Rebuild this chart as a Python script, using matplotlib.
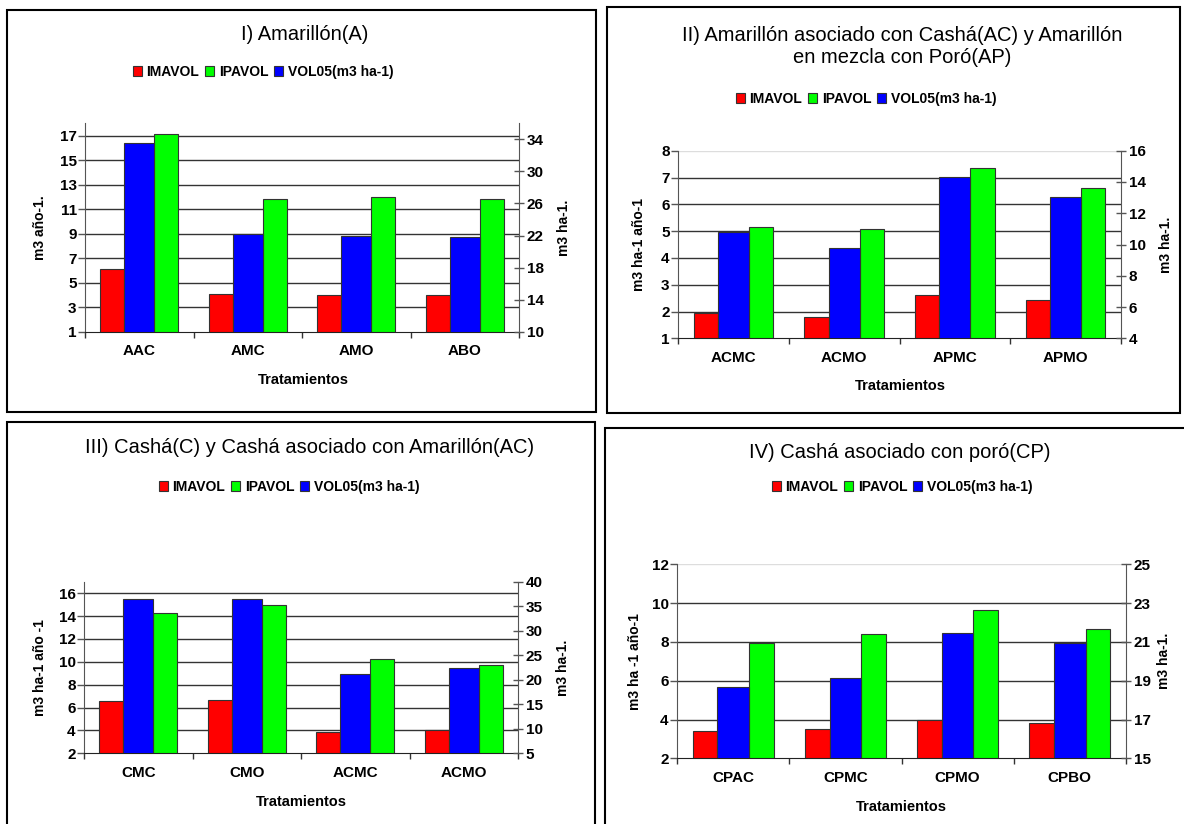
import numpy as np
import matplotlib
matplotlib.use('Agg')
import matplotlib.pyplot as plt
from matplotlib.patches import Rectangle, Patch

plt.rcParams['font.family'] = ['Liberation Sans', 'DejaVu Sans']

W, H = 1184, 824

# Data
series = ['IMAVOL', 'IPAVOL', 'VOL05(m3 ha-1)']

cats_1 = ['AAC', 'AMC', 'AMO', 'ABO']
imavol_1 = [6.1, 4.05, 3.97, 3.97]
ipavol_1 = [17.1, 11.8, 11.95, 11.85]
vol05_1 = [33.5, 22.2, 21.9, 21.8]

cats_2 = ['ACMC', 'ACMO', 'APMC', 'APMO']
imavol_2 = [1.95, 1.8, 2.6, 2.42]
ipavol_2 = [5.17, 5.09, 7.35, 6.6]
vol05_2 = [10.8, 9.75, 14.3, 13.05]

cats_3 = ['CMC', 'CMO', 'ACMC', 'ACMO']
imavol_3 = [6.58, 6.67, 3.84, 4.04]
ipavol_3 = [14.3, 14.95, 10.2, 9.7]
vol05_3 = [36.4, 36.5, 21.1, 22.5]

cats_4 = ['CPAC', 'CPMC', 'CPMO', 'CPBO']
imavol_4 = [3.39, 3.49, 3.98, 3.8]
ipavol_4 = [7.93, 8.39, 9.66, 8.67]
vol05_4 = [18.66, 19.12, 21.44, 20.94]

titles = ['I) Amarillón(A)',
          'II) Amarillón asociado con Cashá(AC) y Amarillón\nen mezcla con Poró(AP)',
          'III) Cashá(C) y Cashá asociado con Amarillón(AC)',
          'IV) Cashá asociado con poró(CP)']
left_labels = ['m3 año-1.', 'm3 ha-1 año-1', 'm3 ha-1 año -1', 'm3 ha -1 año-1']
right_label = 'm3 ha-1.'

RED, GREEN, BLUE = '#ff0000', '#00ff00', '#0000ff'
EDGE = '#333333'

fig = plt.figure(figsize=(W / 100, H / 100), dpi=100)


def fx(x):
    return x / W


def fy(y):
    return 1 - y / H


# layout in pixels: frame, axes box, title, legend, xlabel, ylabel x positions
panels = [
    dict(frame=(7, 10, 596, 412), axbox=(85, 123.3, 519, 331.7), title=(305, 35),
         legend=(263, 72), xlab=(303, 380), ylx=(40, 564),
         cats=cats_1, red=imavol_1, green=ipavol_1, blue=vol05_1,
         llim=(1, 18), lticks=range(1, 18, 2), rlim=(10, 36), rticks=range(10, 35, 4)),
    dict(frame=(606.5, 7, 1180, 412.5), axbox=(678, 150.7, 1121, 338.3), title=(902, 46.5),
         legend=(866, 99), xlab=(900, 386), ylx=(639, 1166),
         cats=cats_2, red=imavol_2, green=ipavol_2, blue=vol05_2,
         llim=(1, 8), lticks=range(1, 9), rlim=(4, 16), rticks=range(4, 17, 2)),
    dict(frame=(7, 421.5, 595, 830), axbox=(84, 581.7, 518, 753.3), title=(310, 447),
         legend=(289, 487), xlab=(301, 802), ylx=(40, 563),
         cats=cats_3, red=imavol_3, green=ipavol_3, blue=vol05_3,
         llim=(2, 17), lticks=range(2, 17, 2), rlim=(5, 40), rticks=range(5, 41, 5)),
    dict(frame=(605.5, 427.5, 1190, 830), axbox=(677, 564.3, 1126, 758.3), title=(900, 453),
         legend=(902, 487), xlab=(901, 807), ylx=(635, 1164),
         cats=cats_4, red=imavol_4, green=ipavol_4, blue=vol05_4,
         llim=(2, 12), lticks=range(2, 13, 2), rlim=(15, 25), rticks=range(15, 26, 2)),
]

for i, p in enumerate(panels):
    x0, y0, x1, y1 = p['frame']
    fig.patches.append(Rectangle((fx(x0), fy(y1)), (x1 - x0) / W, (y1 - y0) / H,
                                 transform=fig.transFigure, fill=False,
                                 ec='black', lw=1.5))

    l, t, r, b = p['axbox']
    ax = fig.add_axes([fx(l), fy(b), (r - l) / W, (b - t) / H])
    ax2 = ax.twinx()

    x = np.arange(len(p['cats']))
    ax.bar(x - 0.25, p['red'], width=0.22, color=RED, edgecolor=EDGE, lw=0.8, zorder=2)
    ax.bar(x + 0.25, p['green'], width=0.22, color=GREEN, edgecolor=EDGE, lw=0.8, zorder=2)
    ax2.bar(x, p['blue'], width=0.28, color=BLUE, edgecolor=EDGE, lw=0.8, zorder=2)

    ax.set_xlim(-0.5, len(x) - 0.5)
    ax.set_ylim(*p['llim'])
    ax2.set_ylim(*p['rlim'])
    ax.set_yticks(list(p['lticks']))
    ax2.set_yticks(list(p['rticks']))

    for v in p['lticks']:
        if v == p['llim'][0]:
            continue
        c = '#dddddd' if v == p['llim'][1] else '#333333'
        ax.axhline(v, color=c, lw=1, zorder=1)

    ax.set_xticks(x)
    ax.set_xticklabels(p['cats'], fontsize=11, fontweight='bold')
    ax.set_xticks(np.arange(len(x) + 1) - 0.5, minor=True)
    ax.tick_params(axis='x', which='major', length=0, pad=9)
    ax.tick_params(axis='x', which='minor', length=4, width=1, color='#333333', direction='out')
    ax.tick_params(axis='y', length=5, width=1, color='#555555', direction='out', pad=1,
                   labelsize=11)
    ax2.tick_params(axis='y', length=7, width=1, color='#555555', direction='inout', pad=2,
                    labelsize=11)
    for lab in ax.get_yticklabels() + ax2.get_yticklabels():
        lab.set_fontweight('bold')

    for a in (ax, ax2):
        a.spines['top'].set_visible(False)
        a.set_facecolor('none')
    ax.spines['right'].set_visible(False)
    ax2.spines['left'].set_visible(False)
    ax2.spines['bottom'].set_visible(False)
    ax.spines['left'].set_color('#555555')
    ax2.spines['right'].set_color('#555555')
    ax.spines['bottom'].set_color('#222222')

    fig.text(fx(p['title'][0]), fy(p['title'][1]), titles[i], ha='center', va='center',
             fontsize=14.5, linespacing=1.15)
    fig.text(fx(p['xlab'][0]), fy(p['xlab'][1]), 'Tratamientos', ha='center', va='center',
             fontsize=10.5, fontweight='bold')
    ymid = (t + b) / 2
    fig.text(fx(p['ylx'][0]), fy(ymid), left_labels[i], rotation=90, ha='center',
             va='center', fontsize=10, fontweight='bold')
    fig.text(fx(p['ylx'][1]), fy(ymid), right_label, rotation=90, ha='center',
             va='center', fontsize=10, fontweight='bold')

    handles = [Patch(facecolor=c, edgecolor=EDGE, lw=0.8) for c in (RED, GREEN, BLUE)]
    fig.legend(handles, series, loc='center',
               bbox_to_anchor=(fx(p['legend'][0]), fy(p['legend'][1])),
               ncol=3, frameon=False, prop=dict(size=10, weight='bold'),
               handlelength=0.65, handleheight=0.65, handletextpad=0.35,
               columnspacing=0.4, borderpad=0)

fig.savefig('out.png', dpi=100)
